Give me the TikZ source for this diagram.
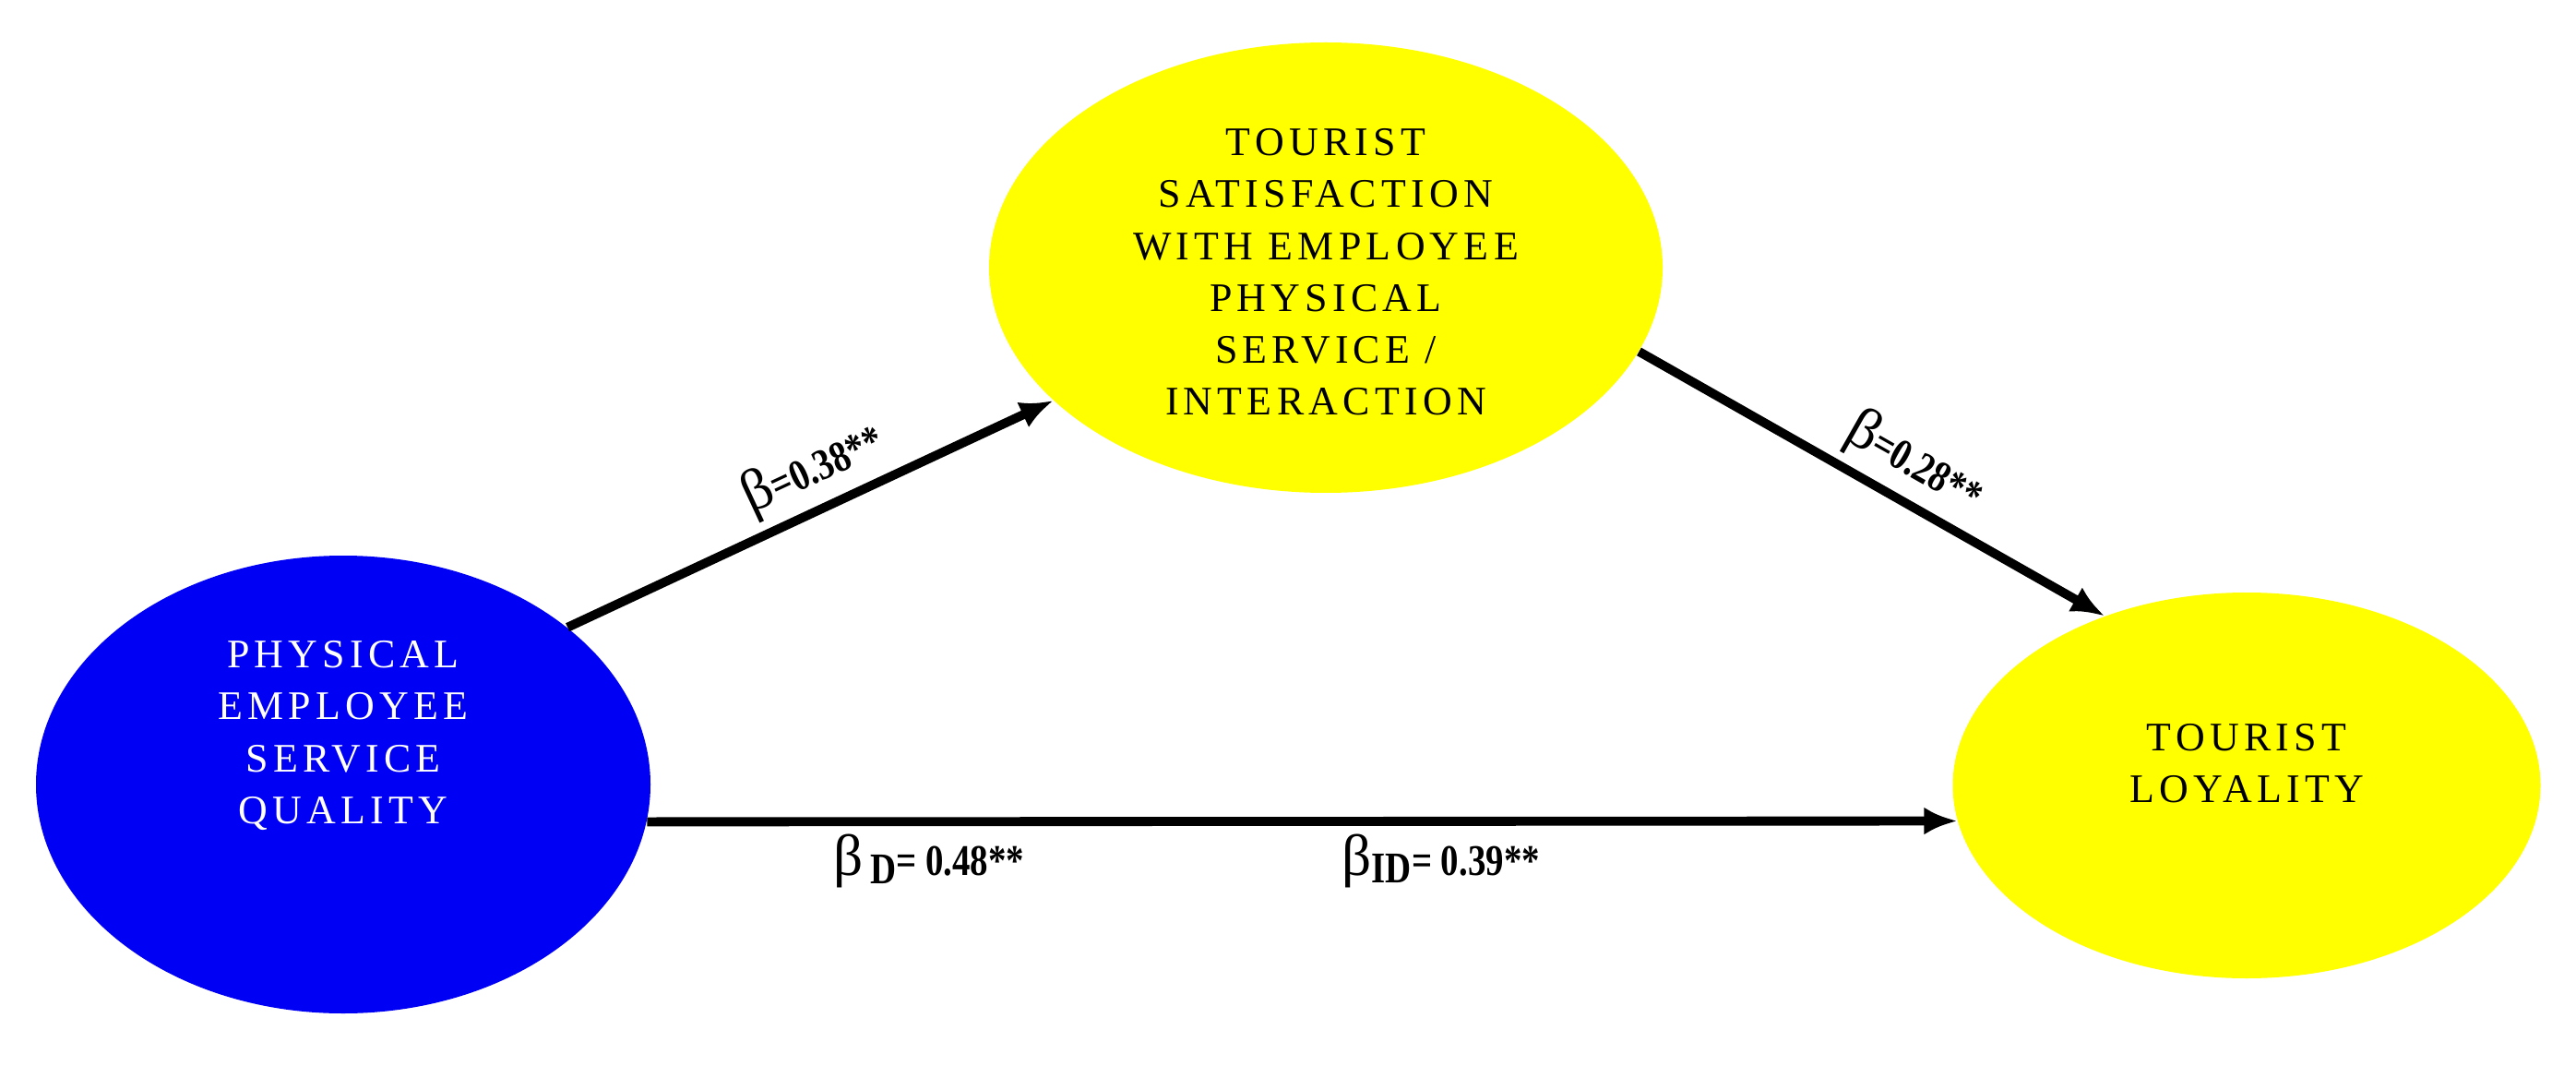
\documentclass[tikz,border=0pt]{standalone}
\usepackage{fontspec}
\setmainfont{Liberation Serif}
\newfontfamily\wideserif[LetterSpace=12]{Liberation Serif}
\usepackage{xcolor}
\usepackage{tikz}
\usetikzlibrary{arrows.meta,shapes.geometric}
\definecolor{pesqblue}{RGB}{0,0,245}
\definecolor{tyellow}{RGB}{255,255,0}
\newcommand{\bet}{{\mdseries\fontsize{18}{18}\selectfont β}}
\newcommand{\cnd}[1]{\scalebox{0.82}[1]{#1}}

\begin{document}
\begin{tikzpicture}[
    construct/.style={ellipse, inner sep=0pt},
    caption/.style={align=center, font=\wideserif\fontsize{12.5}{16}\selectfont},
    arr/.style={line width=2.8pt, -{Latex[length=3.6mm,width=3mm]}},
    coef/.style={font=\bfseries\fontsize{13.5}{13.5}\selectfont, inner sep=2.5pt}
]
            \useasboundingbox (0, 0) rectangle (27.92, 11.54);
            \node (pesq) at (3.72, 3.04) [construct, fill=pesqblue, minimum width=6.66cm, minimum height=4.96cm] {};
            \node (tsat) at (14.37, 8.64) [construct, fill=tyellow, minimum width=7.30cm, minimum height=4.88cm] {};
            \node (tloy) at (24.35, 3.03) [construct, fill=tyellow, minimum width=6.37cm, minimum height=4.18cm] {};
            \node (pesqtxt) at (3.72, 3.57) [caption, text=white] {PHYSICAL\\EMPLOYEE\\SERVICE\\QUALITY};
            \node (tsattxt) at (14.37, 8.59) [caption] {TOURIST\\SATISFACTION\\WITH EMPLOYEE\\PHYSICAL\\SERVICE /\\INTERACTION};
            \node (tloytxt) at (24.35, 3.27) [caption] {TOURIST\\LOYALITY};
            \draw (pesq.35) edge [arr] node [coef, sloped, above, pos=0.54] {\bet\cnd{=0.38**}} (tsat.206);
            \draw (tsat.345) edge [arr] node [coef, sloped, above, pos=0.55] {\bet\cnd{=0.28**}} (tloy.130);
            \draw (pesq.-7) edge [arr]
                node [coef, below, pos=0.215] {\bet\,\raisebox{-0.4ex}{\cnd{D}}\cnd{= 0.48**}}
                node [coef, below, pos=0.606] {\bet\raisebox{-0.4ex}{\cnd{ID}}\cnd{= 0.39**}} (tloy.187);
        \end{tikzpicture}
\end{document}
